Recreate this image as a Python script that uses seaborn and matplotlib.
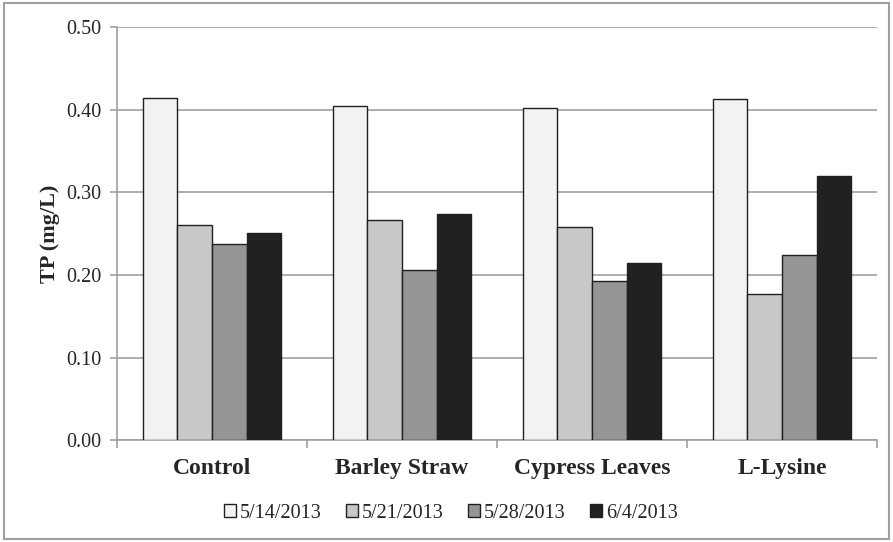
import pandas as pd
import seaborn as sns
import matplotlib.pyplot as plt
from matplotlib.patches import Rectangle
from matplotlib.ticker import FormatStrFormatter, FixedLocator

# Dados
tratamentos = ['Control', 'Barley Straw', 'Cypress Leaves', 'L-Lysine']
datas = ['5/14/2013', '5/21/2013', '5/28/2013', '6/4/2013']
tp_0514 = [0.414, 0.404, 0.402, 0.413]
tp_0521 = [0.261, 0.266, 0.258, 0.177]
tp_0528 = [0.238, 0.206, 0.193, 0.224]
tp_0604 = [0.251, 0.274, 0.215, 0.320]
cores = ['#F1F2F4', '#C7C8CA', '#939598', '#231F20']

linhas = []
for data, valores in zip(datas, [tp_0514, tp_0521, tp_0528, tp_0604]):
    for trat, v in zip(tratamentos, valores):
        linhas.append({'trat': trat, 'data': data, 'tp': v})
df = pd.DataFrame(linhas)

sns.set_style('white')
plt.rcParams['font.family'] = ['Liberation Serif', 'DejaVu Serif']

fig = plt.figure(figsize=(8.93, 5.42), dpi=100)
ax = fig.add_axes([0.131, 0.188, 0.851, 0.762])

sns.barplot(data=df, x='trat', y='tp', hue='data', palette=cores,
            edgecolor='#231F20', linewidth=1.0, width=0.73, ax=ax, zorder=3)

cinza = '#A0A0A0'
ax.set_ylim(0, 0.5)
ax.set_xlim(-0.5, 3.5)
ax.set_yticks([0, 0.1, 0.2, 0.3, 0.4, 0.5])
ax.yaxis.set_major_formatter(FormatStrFormatter('%.2f'))
ax.grid(axis='y', color=cinza, linewidth=1.2, zorder=0)
ax.set_axisbelow(True)

for lado in ['top', 'right']:
    ax.spines[lado].set_visible(False)
for lado in ['left', 'bottom']:
    ax.spines[lado].set_color(cinza)
    ax.spines[lado].set_linewidth(1.2)

ax.tick_params(axis='y', which='major', direction='out', length=5, width=1.2,
               color=cinza, labelsize=14.5, pad=6, left=True)
ax.tick_params(axis='x', which='major', length=0, labelsize=17, pad=13)
ax.xaxis.set_minor_locator(FixedLocator([-0.5, 0.5, 1.5, 2.5, 3.5]))
ax.tick_params(axis='x', which='minor', direction='out', length=6, width=1.2,
               color=cinza, bottom=True)
for lbl in ax.get_xticklabels():
    lbl.set_fontweight('bold')

ax.set_xlabel('')
ax.set_ylabel('TP (mg/L)', fontsize=16, fontweight='bold', labelpad=5)

ax.legend(loc='center', bbox_to_anchor=(0.505, 0.053), bbox_transform=fig.transFigure,
          ncol=4, frameon=False, fontsize=14.5, handlelength=0.6, handleheight=0.6,
          handletextpad=0.2, columnspacing=1.2)

fig.patches.append(Rectangle((0.004, 0.006), 0.992, 0.988, transform=fig.transFigure,
                             fill=False, edgecolor=cinza, linewidth=1.5))

fig.savefig('out.png', dpi=100)
plt.close()
